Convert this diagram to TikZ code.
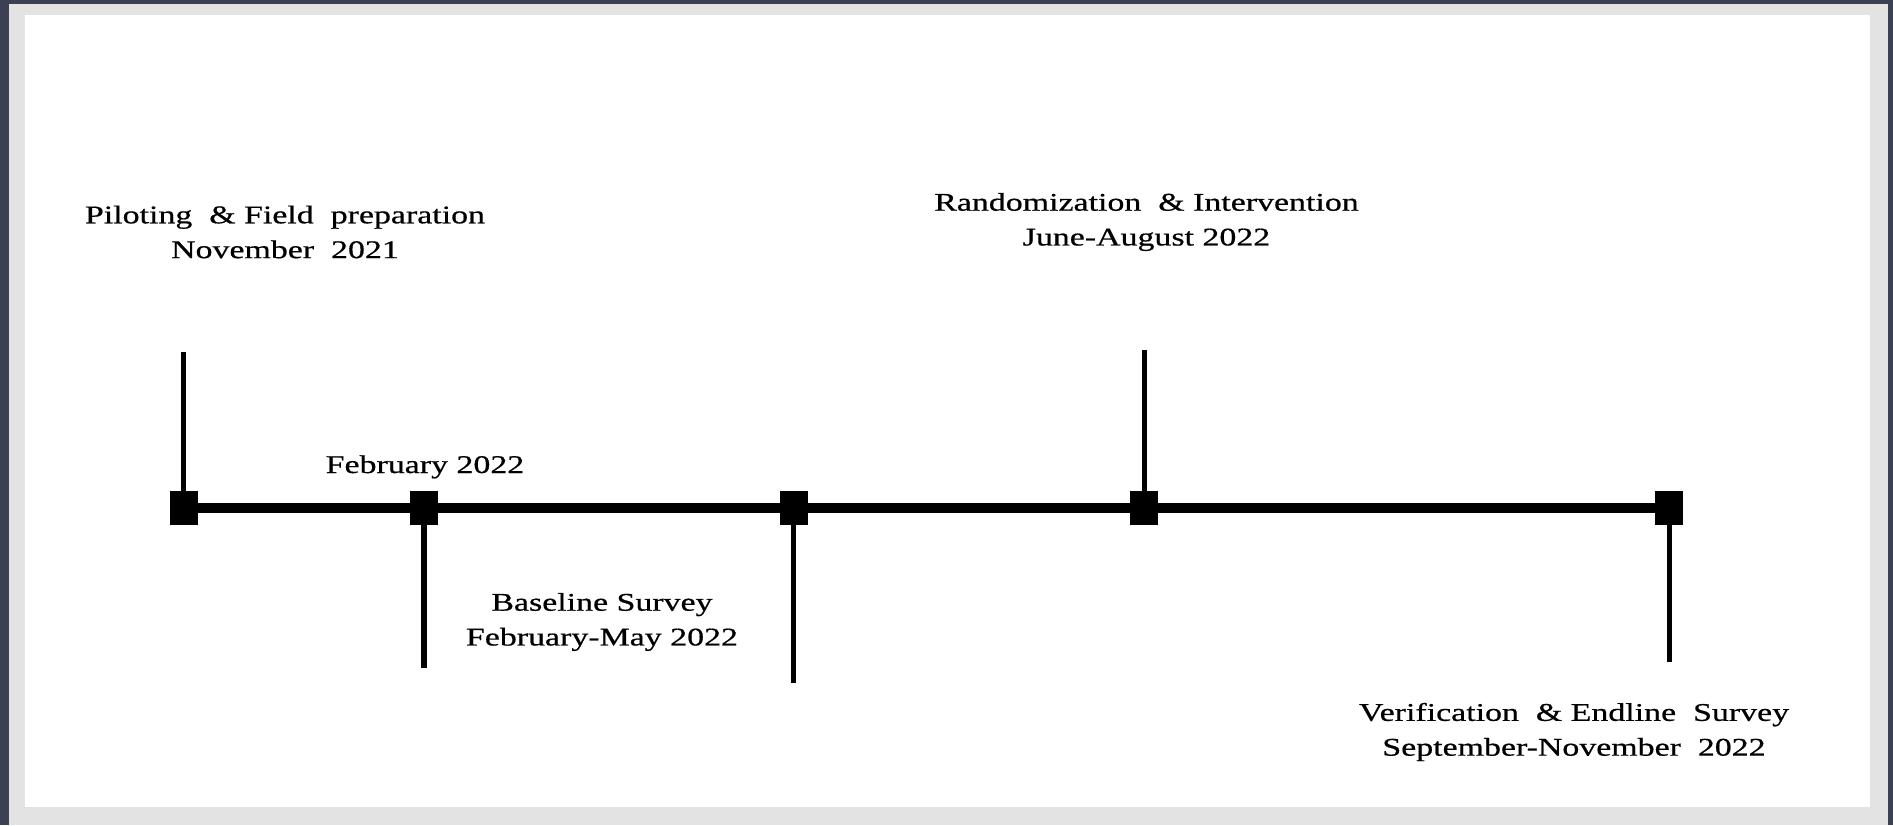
\documentclass[tikz,border=0pt]{standalone}
\usepackage{fontspec}
\setmainfont{Liberation Serif}[FakeStretch=1.33,FakeBold=0.6]
\definecolor{slate}{RGB}{59,65,82}
\definecolor{pagegray}{RGB}{227,227,227}
\begin{document}
\begin{tikzpicture}[
	mark box/.style={rectangle, fill=black, inner sep=0pt, minimum width=0.56cm, minimum height=0.68cm},
	phase/.style={align=center, inner sep=0pt, font=\fontsize{14.5}{19.8}\selectfont},
	axis line/.style={line width=6pt},
	tick line/.style={line width=2.85pt}]
	% page and frame
	\fill[slate] (0,0) rectangle (37.86,16.5);
	\fill[pagegray] (0.18,0) rectangle (37.76,16.42);
	\fill[white] (0.5,0.36) rectangle (37.4,16.2);
	\useasboundingbox (0,0) rectangle (37.86,16.5);
	% time points
	\node[mark box](nov) at (3.67,6.34){};
	\node[mark box](feb) at (8.48,6.34){};
	\node[mark box](may) at (15.87,6.34){};
	\node[mark box](jun) at (22.88,6.34){};
	\node[mark box](sep) at (33.38,6.34){};
	\coordinate (novtop) at (3.67,9.46);
	\coordinate (febbot) at (8.48,3.14);
	\coordinate (maybot) at (15.87,2.84);
	\coordinate (juntop) at (22.88,9.5);
	\coordinate (sepbot) at (33.38,3.26);
	\draw [axis line] (nov.center) -- (sep.center);
	\draw [tick line] (nov.center) -- (novtop);
	\draw [tick line] (feb.center) -- (febbot);
	\draw [tick line] (may.center) -- (maybot);
	\draw [tick line] (jun.center) -- (juntop);
	\draw [tick line] (sep.center) -- (sepbot);
	% labels
	\node[phase](pilot) at (5.70,11.86){Piloting\ \ \& Field\ \ preparation\\November\ \ 2021};
	\node[phase, anchor=base](febtext) at (8.50,7.04){February 2022};
	\node[phase](base) at (12.04,4.06){Baseline Survey\\February-May 2022};
	\node[phase](rand) at (22.93,12.06){Randomization\ \ \& Intervention\\June-August 2022};
	\node[phase](verif) at (31.48,1.86){Verification\ \ \& Endline\ \ Survey\\September-November\ \ 2022};
\end{tikzpicture}
\end{document}
